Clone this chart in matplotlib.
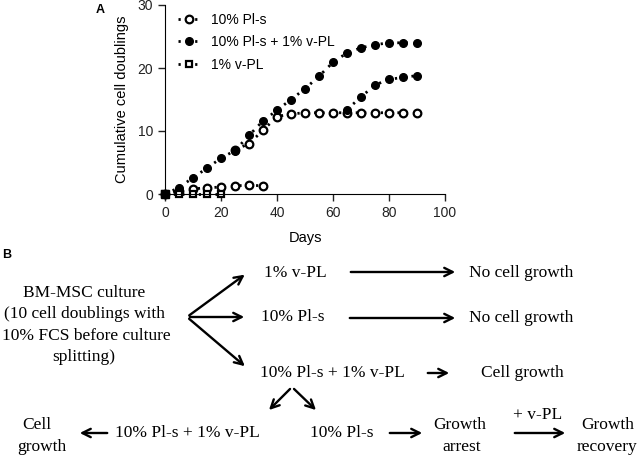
import numpy as np
import matplotlib
matplotlib.use('Agg')
import matplotlib.pyplot as plt

# data
days_combo = [0, 5, 10, 15, 20, 25, 30, 35, 40, 45, 50, 55, 60, 65, 70, 75, 80, 85, 90]
combo = [0, 1.0, 2.6, 4.1, 5.7, 6.9, 9.3, 11.6, 13.3, 15.0, 16.7, 18.7, 20.9, 22.4, 23.2, 23.7, 24.0, 24.0, 24.0]

days_recov = [65, 70, 75, 80, 85, 90]
recov = [13.4, 15.4, 17.3, 18.2, 18.5, 18.8]

days_pls_low = [0, 5, 10, 15, 20, 25, 30, 35]
pls_low = [0, 0.5, 0.8, 1.0, 1.1, 1.3, 1.4, 1.3]

days_pls_up = [25, 30, 35, 40, 45, 50, 55, 60, 65, 70, 75, 80, 85, 90]
pls_up = [7.0, 8.0, 10.1, 12.3, 12.7, 12.9, 12.9, 12.9, 12.9, 12.9, 12.9, 12.9, 12.9, 12.9]

days_vpl = [0, 5, 10, 15, 20]
vpl = [0, 0, 0, 0, 0]

W, H = 640, 457
fig = plt.figure(figsize=(W / 100, H / 100), dpi=100)
plt.rcParams['font.family'] = ['Liberation Sans', 'DejaVu Sans']

# panel A
ax = fig.add_axes([165 / W, 1 - 194 / H, 280 / W, 189 / H])
dots = (0, (0.8, 2.2))
line_kw = dict(color='black', linestyle=dots, linewidth=2, clip_on=False)
ms = 5.5

ax.plot(days_pls_low, pls_low, marker='o', markersize=ms, mfc='white', mec='black', mew=1.6,
        label='10% Pl-s', **line_kw)
ax.plot(days_pls_up, pls_up, marker='o', markersize=ms, mfc='white', mec='black', mew=1.6, **line_kw)
ax.plot(days_combo, combo, marker='o', markersize=ms, mfc='black', mec='black',
        label='10% Pl-s + 1% v-PL', **line_kw)
ax.plot(days_recov, recov, marker='o', markersize=ms, mfc='black', mec='black', **line_kw)
ax.plot(days_vpl, vpl, marker='s', markersize=5, mfc='white', mec='black', mew=1.6,
        label='1% v-PL', **line_kw)
ax.plot([0], [0], marker='s', markersize=6, color='black', clip_on=False, zorder=5)

ax.set_xlim(0, 100)
ax.set_ylim(0, 30)
ax.set_xticks([0, 20, 40, 60, 80, 100])
ax.set_yticks([0, 10, 20, 30])
ax.spines['top'].set_visible(False)
ax.spines['right'].set_visible(False)
ax.tick_params(labelsize=10, length=5, width=1, colors='#222222')
ax.set_xlabel('Days', fontsize=10.5, labelpad=8)
ax.set_ylabel('Cumulative cell doublings', fontsize=10.5, labelpad=6)
ax.legend(loc='upper left', frameon=False, fontsize=10, handlelength=1.6,
          handletextpad=0.8, borderaxespad=0.1, labelspacing=0.6,
          bbox_to_anchor=(0.02, 0.995))

fig.text(100 / W, 1 - 10 / H, 'A', fontsize=9, fontweight='bold', ha='center', va='center')
fig.text(7 / W, 1 - 255 / H, 'B', fontsize=9, fontweight='bold', ha='center', va='center')


# panel B (flow scheme), positions in pixels
def px(x, y):
    return (x / W, 1 - y / H)


def label(x, y, s, ha='center'):
    fig.text(*px(x, y), s, ha=ha, va='center', fontsize=12.5, family='Liberation Serif')


def arrow(x0, y0, x1, y1):
    fig.add_artist(matplotlib.patches.FancyArrowPatch(
        px(x0, y0), px(x1, y1), transform=fig.transFigure,
        arrowstyle='->', mutation_scale=15, lw=1.7, color='black'))


label(84, 293, 'BM-MSC culture')
label(84, 314, '(10 cell doublings with')
label(86, 336, '10% FCS before culture')
label(84, 357, 'splitting)')

arrow(187, 317, 247, 273)
arrow(187, 317, 247, 317)
arrow(187, 317, 247, 368)

label(295, 273, '1% v-PL')
arrow(348, 272, 458, 272)
label(521, 273, 'No cell growth')

label(293, 317, '10% Pl-s')
arrow(347, 318, 458, 318)
label(521, 318, 'No cell growth')

label(332, 373, '10% Pl-s + 1% v-PL')
arrow(425, 373, 452, 373)
label(522, 373, 'Cell growth')

arrow(292, 387, 267, 412)
arrow(292, 387, 318, 412)

label(37, 425, 'Cell')
label(42, 447, 'growth')
arrow(110, 433, 77, 433)
label(187, 433, '10% Pl-s + 1% v-PL')
label(342, 433, '10% Pl-s')
arrow(387, 433, 425, 433)
label(460, 425, 'Growth')
label(462, 447, 'arrest')
label(538, 415, '+ v-PL')
arrow(512, 433, 568, 433)
label(608, 425, 'Growth')
label(607, 447, 'recovery')

fig.savefig('out.png', dpi=100)
